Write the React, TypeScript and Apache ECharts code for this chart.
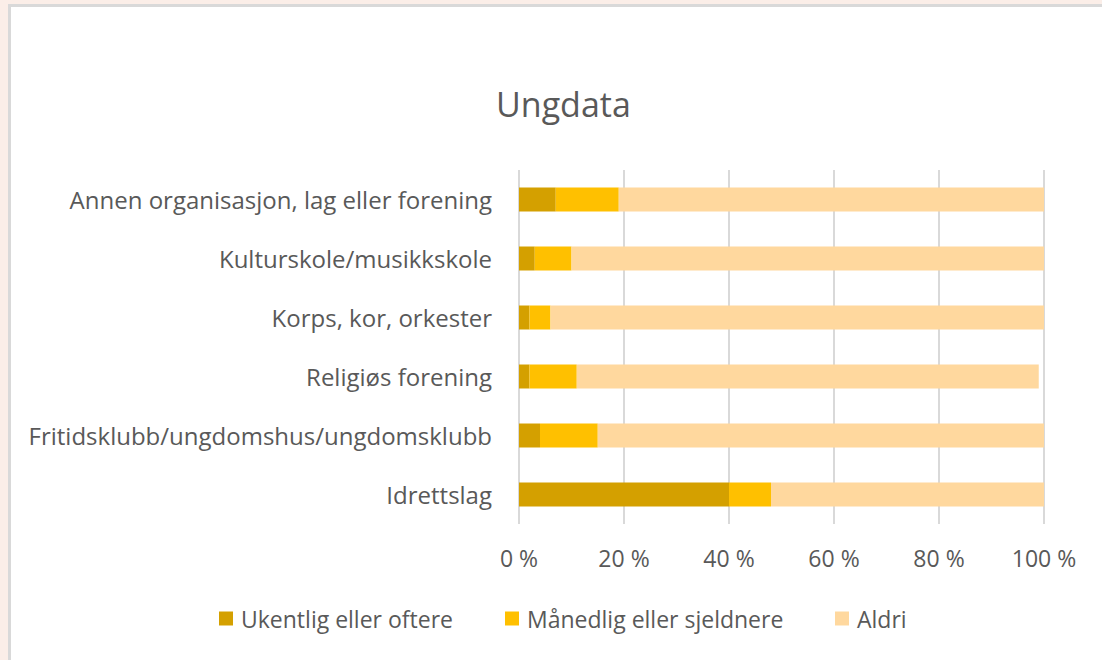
import React, { useEffect, useRef } from "react";
import * as echarts from "echarts";

const categories = [
  "Annen organisasjon, lag eller forening",
  "Kulturskole/musikkskole",
  "Korps, kor, orkester",
  "Religiøs forening",
  "Fritidsklubb/ungdomshus/ungdomsklubb",
  "Idrettslag",
];
const seriesNames = ["Ukentlig eller oftere", "Månedlig eller sjeldnere", "Aldri"];
const ukentlig = [7, 3, 2, 2, 4, 40];
const maanedlig = [12, 7, 4, 9, 11, 8];
const aldri = [81, 90, 94, 88, 85, 52];
const xTicks = [0, 20, 40, 60, 80, 100];
const colors = ["#D4A000", "#FFC000", "#FFD89E"];
const legendLefts = [219, 505, 835];

const FONT = "'Open Sans', sans-serif";
const TEXT = "#595959";

export default function App() {
  const ref = useRef<HTMLDivElement>(null);
  useEffect(() => {
    if (!ref.current) return;
    const chart = echarts.init(ref.current, undefined, { renderer: "svg" });
    const values = [ukentlig, maanedlig, aldri];
    chart.setOption({
      animation: false,
      textStyle: { fontFamily: FONT, color: TEXT },
      title: {
        text: "Ungdata",
        left: 496,
        top: 87,
        padding: 0,
        textStyle: { fontFamily: FONT, fontSize: 34, fontWeight: "normal", color: TEXT },
      },
      legend: seriesNames.map((name, i) => ({
        data: [name],
        left: legendLefts[i],
        top: 607,
        padding: 0,
        itemWidth: 14,
        itemHeight: 14,
        icon: "rect",
        textStyle: { fontFamily: FONT, fontSize: 23, color: TEXT, padding: [0, 0, 0, 3] },
      })),
      grid: { left: 519, right: 58, top: 170, bottom: 136, containLabel: false },
      xAxis: {
        type: "value",
        min: xTicks[0],
        max: xTicks[xTicks.length - 1],
        interval: 20,
        axisLine: { show: false },
        axisTick: { show: false },
        splitLine: { lineStyle: { color: "#D9D9D9", width: 2 } },
        axisLabel: {
          fontFamily: FONT,
          fontSize: 23,
          color: TEXT,
          margin: 22,
          formatter: (v: number) => `${v} %`,
        },
      },
      yAxis: {
        type: "category",
        data: categories,
        inverse: true,
        axisLine: { show: false },
        axisTick: { show: false },
        axisLabel: { fontFamily: FONT, fontSize: 24, color: TEXT, margin: 27 },
      },
      series: seriesNames.map((name, i) => ({
        name,
        type: "bar",
        stack: "total",
        barWidth: 24,
        data: values[i],
        itemStyle: { color: colors[i] },
      })),
    });
    return () => chart.dispose();
  }, []);
  return (
    <div
      style={{
        position: "fixed",
        left: 0,
        top: 0,
        width: 1102,
        height: 660,
        background: "#FBEEE8",
        overflow: "hidden",
      }}
    >
      <div
        style={{
          position: "absolute",
          left: 8,
          top: 4,
          width: 1200,
          height: 800,
          background: "#FFFFFF",
          border: "3px solid #D9D9D9",
        }}
      />
      <div
        ref={ref}
        style={{ position: "absolute", left: 0, top: 0, width: 1102, height: 660 }}
      />
    </div>
  );
}
